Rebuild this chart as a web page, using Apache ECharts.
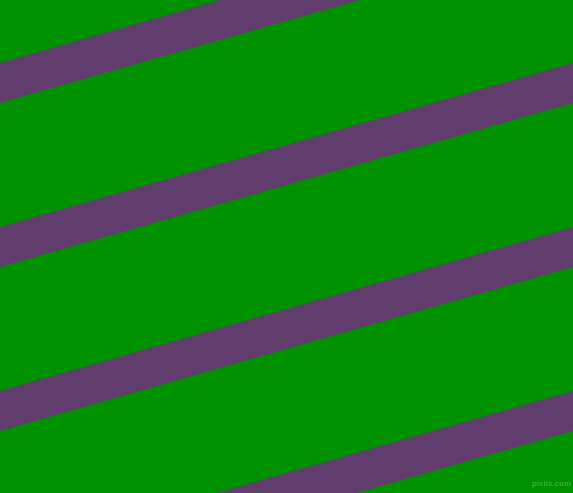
<!DOCTYPE html>
<html>
<head>
<meta charset="utf-8">
<script src="https://cdn.jsdelivr.net/npm/echarts@6/dist/echarts.min.js"></script>
<style>
html,body{margin:0;padding:0;background:#009100;}
#chart{width:573px;height:493px;}
</style>
</head>
<body>
<div id="chart"></div>
<script>
// Stripe centre lines: y at left edge (x=0) and right edge (x=573)
const stripeX = [0, 573];
const stripeLeftY = [83, 247, 411, 575];
const stripeRightY = [-81, 83, 247, 411];
const stripeNames = ['s1', 's2', 's3', 's4'];
const watermark = 'pixlis.com';

const chart = echarts.init(document.getElementById('chart'));
const series = stripeNames.map((n, i) => ({
  name: n,
  type: 'line',
  data: [[stripeX[0], stripeLeftY[i]], [stripeX[1], stripeRightY[i]]],
  showSymbol: false,
  symbol: 'none',
  clip: true,
  silent: true,
  lineStyle: { color: '#613D6E', width: 38.5, cap: 'square' }
}));
chart.setOption({
  animation: false,
  backgroundColor: '#009100',
  grid: { left: 0, right: 0, top: 0, bottom: 0 },
  xAxis: { type: 'value', min: 0, max: 573, show: false },
  yAxis: { type: 'value', min: 0, max: 493, inverse: true, show: false },
  graphic: [{
    type: 'text', right: 2, bottom: 5,
    style: { text: watermark, fill: 'rgba(190,210,190,0.35)', font: 'bold 8px "Liberation Sans"' }
  }],
  series: series
});
</script>
</body>
</html>
